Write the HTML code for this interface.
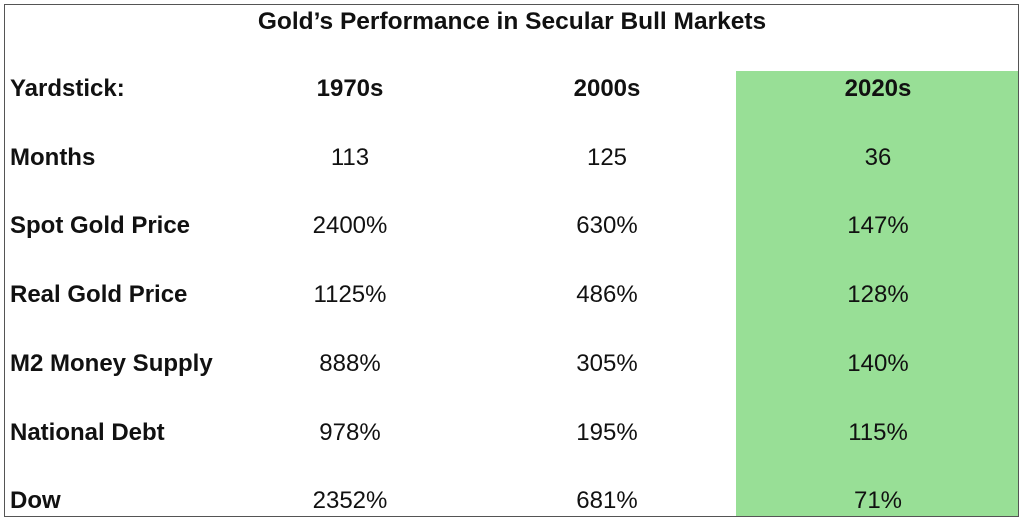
<!DOCTYPE html>
<html><head><style>
body{margin:0;width:1024px;height:523px;background:#fff;position:relative;overflow:hidden;font-family:"Liberation Sans",Arial,sans-serif;color:#111}
.box{position:absolute;left:4px;top:4px;width:1013px;height:511px;border:1.5px solid #555}
.g{position:absolute;left:736px;top:71px;width:282px;height:446px;background:#98df96}
.t{position:absolute;font-size:24px;line-height:26px;white-space:nowrap}
.b{font-weight:bold}
.c{transform:translateX(-50%)}
</style></head><body>
<div class="g"></div>
<div class="box"></div>
<div class="t b c" style="left:512px;top:9px;font-size:24.5px">Gold’s Performance in Secular Bull Markets</div>
<div class="t b" style="left:10px;top:76px">Yardstick:</div>
<div class="t b c" style="left:350px;top:76px">1970s</div>
<div class="t b c" style="left:607px;top:76px">2000s</div>
<div class="t b c" style="left:878px;top:76px">2020s</div>

<div class="t b" style="left:10px;top:145px">Months</div>
<div class="t c" style="left:350px;top:145px">113</div>
<div class="t c" style="left:607px;top:145px">125</div>
<div class="t c" style="left:878px;top:145px">36</div>

<div class="t b" style="left:10px;top:213px">Spot Gold Price</div>
<div class="t c" style="left:350px;top:213px">2400%</div>
<div class="t c" style="left:607px;top:213px">630%</div>
<div class="t c" style="left:878px;top:213px">147%</div>

<div class="t b" style="left:10px;top:282px">Real Gold Price</div>
<div class="t c" style="left:350px;top:282px">1125%</div>
<div class="t c" style="left:607px;top:282px">486%</div>
<div class="t c" style="left:878px;top:282px">128%</div>

<div class="t b" style="left:10px;top:351px">M2 Money Supply</div>
<div class="t c" style="left:350px;top:351px">888%</div>
<div class="t c" style="left:607px;top:351px">305%</div>
<div class="t c" style="left:878px;top:351px">140%</div>

<div class="t b" style="left:10px;top:420px">National Debt</div>
<div class="t c" style="left:350px;top:420px">978%</div>
<div class="t c" style="left:607px;top:420px">195%</div>
<div class="t c" style="left:878px;top:420px">115%</div>

<div class="t b" style="left:10px;top:488px">Dow</div>
<div class="t c" style="left:350px;top:488px">2352%</div>
<div class="t c" style="left:607px;top:488px">681%</div>
<div class="t c" style="left:878px;top:488px">71%</div>
</body></html>
